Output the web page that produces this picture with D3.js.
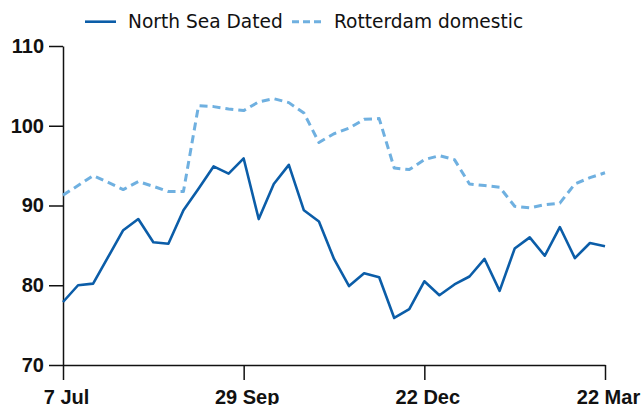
<!DOCTYPE html>
<html>
<head>
<meta charset="utf-8">
<script src="https://cdn.jsdelivr.net/npm/d3@7"></script>
<style>
  body { margin: 0; background: #fff; }
  svg text { font-family: "Liberation Sans", Arial, sans-serif; }
</style>
</head>
<body>
<svg id="chart" width="643" height="405"></svg>
<script>
// weekly observations, index 0 = 7 Jul
var northSea = [77.9, 80.0, 80.2, 83.55, 86.9, 88.3, 85.4, 85.2, 89.4, 92.1,
    94.9, 94.0, 95.9, 88.3, 92.7, 95.1, 89.4, 88.0, 83.3, 79.9,
    81.5, 81.0, 75.9, 77.0, 80.5, 78.75, 80.1, 81.1, 83.3, 79.3,
    84.6, 86.0, 83.7, 87.3, 83.4, 85.3, 84.9];
var rotterdam = [91.3, 92.5, 93.75, 92.9, 92.0, 93.0, 92.4, 91.75, 91.75, 102.5,
    102.4, 102.1, 101.9, 103.0, 103.4, 102.9, 101.6, 97.9, 99.0, 99.7,
    100.8, 100.9, 94.7, 94.5, 95.75, 96.25, 95.75, 92.7, 92.5, 92.3,
    89.9, 89.7, 90.1, 90.3, 92.7, 93.5, 94.1];
var xTickIdx = [0, 12, 24, 36];
var xTickLabels = ["7 Jul", "29 Sep", "22 Dec", "22 Mar"];
var yTicks = [70, 80, 90, 100, 110];
var seriesNames = ["North Sea Dated", "Rotterdam domestic"];

var svg = d3.select('#chart');
var margin = {top: 46, left: 63, bottom: 40, right: 38};
var width = 643, height = 405;

var x = d3.scaleLinear().domain([0, 36]).range([margin.left, width - margin.right]);
var y = d3.scaleLinear().domain([70, 110]).range([height - margin.bottom, margin.top]);

var dark = "#0b5da8", light = "#6fb0e0";

// axes
var xAxis = d3.axisBottom(x).tickValues(xTickIdx)
    .tickFormat(function(d, i) { return xTickLabels[i]; })
    .tickSize(15).tickPadding(10).tickSizeOuter(0);
var yAxis = d3.axisLeft(y).tickValues(yTicks).tickSize(14).tickPadding(5).tickSizeOuter(0);

var gx = svg.append("g")
    .attr("transform", "translate(0," + y(70) + ")")
    .call(xAxis);
var gy = svg.append("g")
    .attr("transform", "translate(" + margin.left + ",0)")
    .call(yAxis);

[gx, gy].forEach(function(g) {
    g.select(".domain").attr("stroke", "#111").attr("stroke-width", 1.5);
    g.selectAll(".tick line").attr("stroke", "#111").attr("stroke-width", 1.5);
    g.selectAll(".tick text").attr("fill", "#111")
        .style("font-size", "20px").style("font-weight", "bold");
});
gx.selectAll(".tick text").attr("dx", 3);

// lines
var line = d3.line()
    .x(function(d, i) { return x(i); })
    .y(function(d) { return y(d); });

svg.append("path").datum(rotterdam)
    .attr("fill", "none").attr("stroke", light).attr("stroke-width", 3)
    .attr("stroke-dasharray", "8,5").attr("stroke-linejoin", "round")
    .attr("d", line);

svg.append("path").datum(northSea)
    .attr("fill", "none").attr("stroke", dark).attr("stroke-width", 2.6)
    .attr("stroke-linejoin", "round")
    .attr("d", line);

// legend
var legend = svg.append("g").style("font-family", "'DejaVu Sans', sans-serif");
legend.append("line").attr("x1", 85).attr("x2", 116).attr("y1", 21.7).attr("y2", 21.7)
    .attr("stroke", dark).attr("stroke-width", 2.6);
legend.append("text").attr("x", 128).attr("y", 28.3).style("font-size", "18.6px")
    .style("font-family", "'DejaVu Sans', sans-serif")
    .attr("fill", "#111").text(seriesNames[0]);
legend.append("line").attr("x1", 292).attr("x2", 325).attr("y1", 21.7).attr("y2", 21.7)
    .attr("stroke", light).attr("stroke-width", 3).attr("stroke-dasharray", "7,4");
legend.append("text").attr("x", 334).attr("y", 28.3).style("font-size", "18.6px")
    .style("font-family", "'DejaVu Sans', sans-serif")
    .attr("fill", "#111").text(seriesNames[1]);
</script>
</body>
</html>
